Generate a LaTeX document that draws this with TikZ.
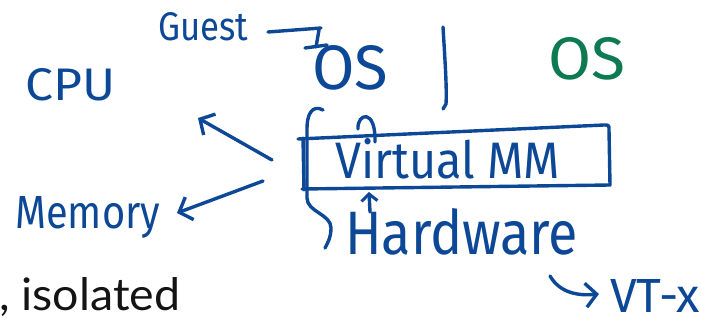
\documentclass[tikz,border=0pt]{standalone}
\usepackage{fontspec}
\setmainfont{Lato}
\newfontfamily\hand{Fira Sans}
\usetikzlibrary{arrows.meta}
\definecolor{pen}{RGB}{12,72,150}
\definecolor{pengreen}{RGB}{14,122,82}
\tikzset{
  ink/.style={draw=pen,line width=3.4pt,line cap=round,line join=round},
  handtxt/.style={text=pen,inner sep=0pt,font=\hand},
  tip/.style={-{Straight Barb[length=11pt,width=24pt,line width=3.4pt]}}
}
\begin{document}
\begin{tikzpicture}[x=1pt,y=-1pt]
\useasboundingbox (0,0) rectangle (701,324);

% texts
\node[handtxt,anchor=base west] (guest) at (158,41) {\resizebox{90pt}{28pt}{Guest}};
\node[handtxt,anchor=base west] (os1) at (312,89) {\resizebox{76pt}{44pt}{OS}};
\node[handtxt,anchor=base west,text=pengreen] (os2) at (548,79) {\resizebox{77pt}{42pt}{OS}};
\node[handtxt,anchor=base west] (cpu) at (25,100) {\resizebox{90pt}{32pt}{CPU}};
\node[handtxt,anchor=base west] (mem) at (15,228) {\resizebox{145pt}{32pt}{Memory}};
\node[handtxt,anchor=base west] (vmm) at (335,178) {\resizebox{225pt}{40pt}{Virtual MM}};
\node[handtxt,anchor=base west] (hw) at (345,254) {\resizebox{233pt}{46pt}{Hardware}};
\node[handtxt,anchor=base west] (vtx) at (610,312) {\resizebox{90pt}{33pt}{VT-x}};
\node[inner sep=0pt,anchor=base west,text=black!92] (iso) at (-1,310) {\resizebox{181pt}{33pt}{, isolated}};

% Guest pointer to OS
\coordinate (g1) at (268,32);
\coordinate (g2) at (321,28);
\coordinate (g3) at (316,47);
\draw[ink] (g1) -- (g2);
\draw[ink] (319,30) -- (g3);
\draw[ink] (305,48) -- (327,45);

% divider
\draw[ink] (443,27) .. controls (445,60) and (447,90) .. (446,104) -- (443,109);

% arrows to CPU and Memory
\coordinate (c0) at (272,160);
\coordinate (m0) at (263,181);
\draw[ink,tip] (c0) -- (198,118);
\draw[ink,tip] (m0) -- (177,213);

% box around Virtual MM
\draw[ink] (298,139) -- (604,125) .. controls (609,125) .. (609,130) -- (610,185)
  -- (302,189);
\draw[ink] (303,138) -- (304,190);

% brace
\draw[ink] (323,110) .. controls (312,104) and (307,115) .. (307,128)
  -- (307,198) .. controls (307,212) and (331,214) .. (331,228)
  .. controls (331,238) and (327,244) .. (325,248);

% small curved arrow above the box
\draw[ink] (358,129) .. controls (357,113) and (376,108) .. (375,142);
% small arrow below the box
\draw[ink,-{Straight Barb[length=7pt,width=16pt,line width=3pt]}] (370,212) -- (369,192);

% VT-x hook arrow
\draw[ink,tip] (550,276) .. controls (560,293) and (578,296) .. (599,294);
\end{tikzpicture}
\end{document}
